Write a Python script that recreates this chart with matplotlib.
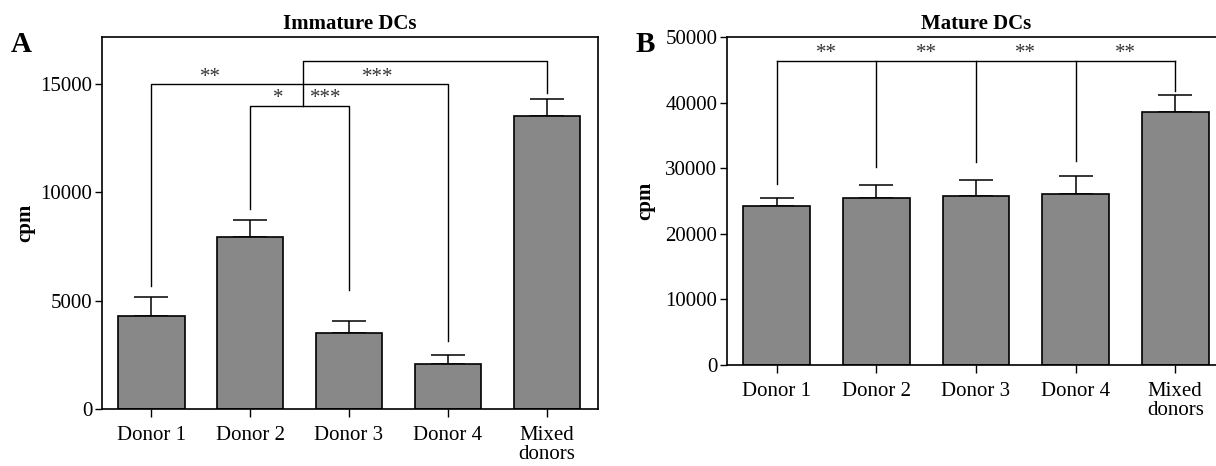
import numpy as np
import matplotlib.pyplot as plt

plt.rcParams['font.family'] = ['Liberation Serif', 'DejaVu Serif']

donors = ['Donor 1', 'Donor 2', 'Donor 3', 'Donor 4', 'Mixed\ndonors']

# immature DCs (cpm, mean and upper SEM)
imm_mean = [4300, 7920, 3500, 2090, 13540]
imm_err = [850, 820, 550, 380, 770]

# mature DCs
mat_mean = [24200, 25400, 25700, 26000, 38500]
mat_err = [1300, 2050, 2550, 2750, 2600]

# significance brackets: (x left, x right, bar height, left leg end, right leg end)
imm_brackets = [
    (0, 3, 15000, 5700, 3140),
    (1, 2, 14000, 9250, 5470),
    (1.53, 4, 16050, 14000, 14600),
]
imm_stars = [('**', 0.6, 15000), ('***', 2.29, 15000),
             ('*', 1.28, 14000), ('***', 1.76, 14000)]

mat_bracket_y = 46400
mat_leg_ends = [27600, 30250, 30900, 31100, 41750]
mat_stars = ['**', '**', '**', '**']

W, H = 1216, 466
fig = plt.figure(figsize=(W / 100, H / 100), dpi=100)


def px_axes(left, top, right, bottom):
    return fig.add_axes([left / W, 1 - bottom / H, (right - left) / W, (bottom - top) / H])


def draw_bars(ax, means, errs):
    x = np.arange(len(means))
    ax.bar(x, means, width=0.67, color='#888888', edgecolor='black', linewidth=1.2, zorder=2)
    ax.errorbar(x, means, yerr=[np.zeros(len(errs)), errs], fmt='none', ecolor='black',
                elinewidth=1.1, capsize=12, capthick=1.1, zorder=1)
    ax.set_xticks(x)
    ax.set_xticklabels(donors, fontsize=15, linespacing=1.0)
    ax.tick_params(axis='x', length=6, width=1, pad=6)
    ax.tick_params(axis='y', length=5, width=1, labelsize=15, pad=2)
    for s in ax.spines.values():
        s.set_linewidth(1.2)
    ax.set_ylabel('cpm', fontsize=15, fontweight='bold')


def star(ax, text, x, y):
    ax.annotate(text, (x, y), xytext=(0, -2), textcoords='offset points',
                ha='center', va='bottom', fontsize=15, color='#333333')


# panel A
axA = px_axes(102, 37, 598, 409)
draw_bars(axA, imm_mean, imm_err)
axA.set_xlim(-0.5, 4.52)
axA.set_ylim(0, 17170)
axA.set_yticks([0, 5000, 10000, 15000])
axA.yaxis.set_label_coords(-0.135, 0.5)
axA.set_title('Immature DCs', fontsize=15, fontweight='bold', pad=6)
for x1, x2, y, e1, e2 in imm_brackets:
    axA.plot([x1, x1, x2, x2], [e1, y, y, e2], color='black', lw=1, zorder=3)
for t, x, y in imm_stars:
    star(axA, t, x, y)

# panel B (right edge runs off the canvas)
axB = px_axes(727, 37, 1225, 365)
draw_bars(axB, mat_mean, mat_err)
axB.set_xlim(-0.5, 4.5)
axB.set_ylim(0, 50000)
axB.set_yticks(np.arange(0, 50001, 10000))
axB.yaxis.set_label_coords(-0.145, 0.5)
axB.set_title('Mature DCs', fontsize=15, fontweight='bold', pad=6)
xb = np.arange(len(mat_leg_ends))
axB.plot([xb[0], xb[-1]], [mat_bracket_y, mat_bracket_y], color='black', lw=1, zorder=3)
for x, e in zip(xb, mat_leg_ends):
    axB.plot([x, x], [e, mat_bracket_y], color='black', lw=1, zorder=3)
for i, t in enumerate(mat_stars):
    star(axB, t, i + 0.5, mat_bracket_y)

fig.text(21 / W, 1 - 44 / H, 'A', fontsize=21, fontweight='bold', ha='center', va='center')
fig.text(645 / W, 1 - 44 / H, 'B', fontsize=21, fontweight='bold', ha='center', va='center')

fig.savefig('out.png', dpi=100)
